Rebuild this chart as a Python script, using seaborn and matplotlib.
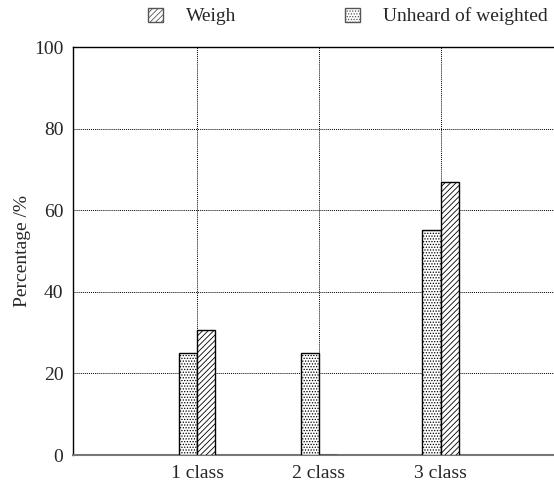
import matplotlib
matplotlib.use('Agg')
import matplotlib.pyplot as plt
import seaborn as sns
import pandas as pd
from matplotlib.patches import Patch

# Data
categories = ["1 class", "2 class", "3 class"]
unheard_vals = [25.1, 25.0, 55.1]
weigh_vals = [30.6, 0.0, 67.0]
series_names = ["Weigh", "Unheard of weighted"]
y_ticks = [0, 20, 40, 60, 80, 100]

df = pd.DataFrame({
    "category": categories * 2,
    "series": ["Unheard of weighted"] * 3 + ["Weigh"] * 3,
    "value": unheard_vals + weigh_vals,
})

sns.set_style("white")
plt.rcParams['font.family'] = ['Liberation Serif', 'DejaVu Serif']
plt.rcParams['hatch.color'] = '#8a8a8a'
plt.rcParams['hatch.linewidth'] = 0.6

fig = plt.figure(figsize=(5.54, 4.96), dpi=100)
ax = fig.add_axes([73 / 554, 41 / 496, 481 / 554, 408 / 496])

sns.barplot(data=df, x="category", y="value", hue="series",
            hue_order=["Unheard of weighted", "Weigh"],
            palette=["white", "white"], width=0.3, ax=ax,
            edgecolor="black", linewidth=1.0, legend=False, zorder=3)

hatches = {"Unheard of weighted": "......", "Weigh": "//////"}
for container, name in zip(ax.containers, ["Unheard of weighted", "Weigh"]):
    for bar in container:
        bar.set_hatch(hatches[name])

ax.set_xlim(-1.02, 2.93)
ax.set_ylim(0, 100)
ax.set_yticks(y_ticks)
ax.set_xlabel("")
ax.set_ylabel("Percentage /%", fontsize=14, labelpad=2)
ax.tick_params(axis='both', length=0, labelsize=14)
ax.tick_params(axis='x', pad=7)
ax.tick_params(axis='y', pad=7)
ax.grid(True, linestyle=(0, (1, 1)), color='black', linewidth=0.7, zorder=0)
ax.set_axisbelow(True)
ax.spines['right'].set_visible(False)
for s in ['left', 'top']:
    ax.spines[s].set_color('black')
    ax.spines[s].set_linewidth(1.0)
ax.spines['bottom'].set_color('#777777')
ax.spines['bottom'].set_linewidth(1.5)

legend_elements = [
    Patch(facecolor='white', edgecolor='#555555', hatch=hatches[n], label=n)
    for n in series_names
]
fig.legend(handles=legend_elements, loc='upper center', ncol=2,
           bbox_to_anchor=(0.628, 1.02), frameon=False, fontsize=14,
           handlelength=0.75, handleheight=0.75, columnspacing=5.6,
           handletextpad=1.2)

plt.savefig("out.png", dpi=100)
